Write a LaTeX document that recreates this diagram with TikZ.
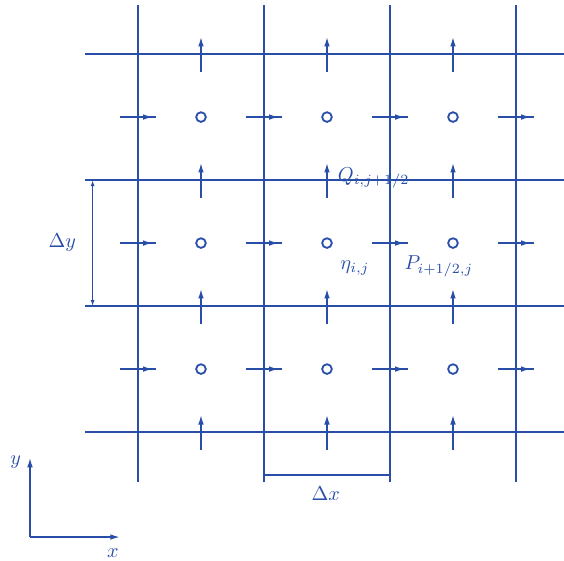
\documentclass[tikz,border=0pt]{standalone}
\usetikzlibrary{arrows.meta}
\definecolor{ink}{RGB}{40,78,168}
\begin{document}
\begin{tikzpicture}[x=2.2cm,y=2.2cm,ink,
  gridline/.style={line width=1.3pt},
  thinline/.style={line width=0.9pt},
  fluxup/.style={line width=0.9pt,-{Latex[length=5pt,width=2.8pt]}},
  dim/.style={line width=0.8pt,{Latex[length=3pt,width=2pt]}-{Latex[length=3pt,width=2pt]}},
  lbl/.style={text=ink,font=\normalsize}]
  \useasboundingbox (-1.095,-1.016) rectangle (3.381,3.429);

  % 格子
  \draw[gridline] (0,-0.4) -- (0,3.39);
  \draw[gridline] (1,-0.4) -- (1,3.39);
  \draw[gridline] (2,-0.4) -- (2,3.39);
  \draw[gridline] (3,-0.4) -- (3,3.39);
  \draw[gridline] (-0.42,0) -- (3.381,0);
  \draw[gridline] (-0.42,1) -- (3.381,1);
  \draw[gridline] (-0.42,2) -- (3.381,2);
  \draw[gridline] (-0.42,3) -- (3.381,3);

  % 水位点
  \foreach \i in {0,1,2}
    \foreach \j in {0,1,2}
      \node[draw,circle,line width=0.9pt,inner sep=0pt,minimum size=4.8pt] (c-\i-\j) at (\i+0.5,\j+0.5) {};

  % 流量 P
  \foreach \i in {0,1,2,3}
    \foreach \j in {0,1,2} {
      \draw[fluxup] (\i-0.14,\j+0.5) -- (\i+0.12,\j+0.5);
      \draw[thinline] (\i+0.08,\j+0.5) -- (\i+0.14,\j+0.5);
    }

  % 流量 Q
  \foreach \i in {0,1,2}
    \foreach \j in {0,1,2,3}
      \draw[fluxup] (\i+0.5,\j-0.14) -- (\i+0.5,\j+0.14);

  \node[lbl,anchor=base west] (Q) at (1.53,1.99) {$Q_{i,j+1/2}$};
  \node[lbl,anchor=base west] (eta) at (1.55,1.29) {$\eta_{i,j}$};
  \node[lbl,anchor=base west] (P) at (2.06,1.29) {$P_{i+1/2,j}$};

  % 寸法線
  \coordinate (dy1) at (-0.36,1);
  \coordinate (dy2) at (-0.36,2);
  \draw[dim] (dy1) -- (dy2);
  \node[lbl] (dy) at (-0.6,1.5) {$\Delta y$};
  \coordinate (dx1) at (1,-0.34);
  \coordinate (dx2) at (2,-0.34);
  \draw[thinline] (dx1) -- (dx2);
  \node[lbl] (dx) at (1.49,-0.49) {$\Delta x$};

  % 座標軸
  \coordinate (O) at (-0.857,-0.833);
  \draw[thinline,-{Latex[length=5pt,width=2.8pt]}] (O) -- (-0.857,-0.2);
  \draw[thinline,-{Latex[length=5pt,width=2.8pt]}] (O) -- (-0.14,-0.833);
  \node[lbl] (y) at (-0.97,-0.24) {$y$};
  \node[lbl] (x) at (-0.2,-0.96) {$x$};
\end{tikzpicture}
\end{document}
